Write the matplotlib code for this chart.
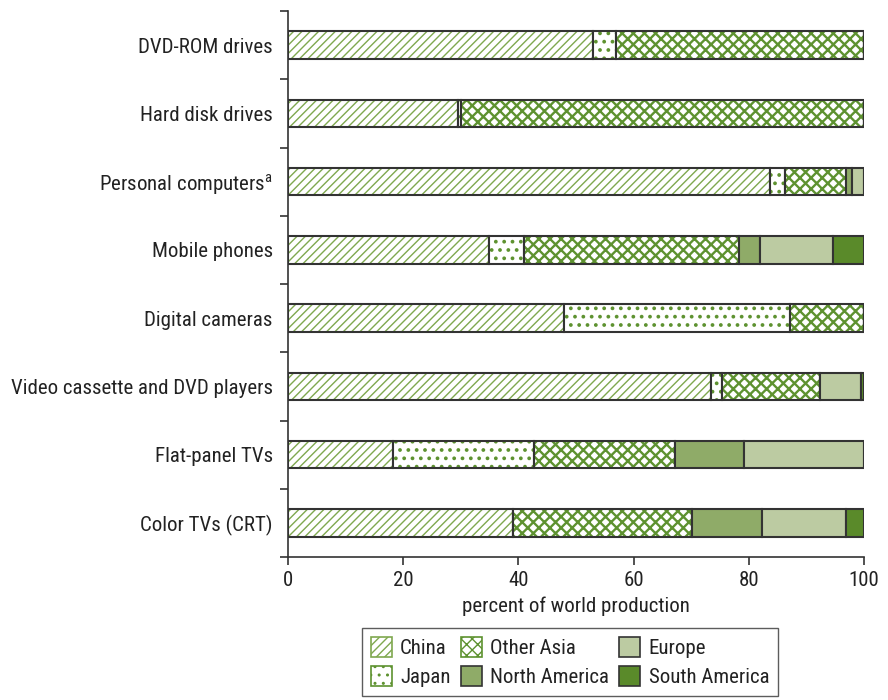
import matplotlib
matplotlib.use("Agg")
import matplotlib.pyplot as plt
from matplotlib import font_manager as fm
from matplotlib.patches import Patch
import numpy as np

categories = ["Color TVs (CRT)", "Flat-panel TVs", "Video cassette and DVD players",
              "Digital cameras", "Mobile phones", "Personal computers$^{\\mathrm{a}}$",
              "Hard disk drives", "DVD-ROM drives"]
china         = [39.1, 18.3, 73.5, 48.0, 34.9, 83.6, 29.5, 53.0]
japan         = [0.0, 24.4, 1.9, 39.2, 6.1, 2.6, 0.5, 4.0]
other_asia    = [31.1, 24.5, 17.0, 12.8, 37.3, 10.7, 70.0, 43.0]
north_america = [12.1, 11.9, 0.0, 0.0, 3.6, 1.1, 0.0, 0.0]
europe        = [14.6, 20.9, 7.1, 0.0, 12.8, 2.0, 0.0, 0.0]
south_america = [3.1, 0.0, 0.5, 0.0, 5.3, 0.0, 0.0, 0.0]
xticks = [0, 20, 40, 60, 80, 100]

names = {f.name for f in fm.fontManager.ttflist}
fam = None
for cand in ["Roboto Condensed", "Liberation Sans Narrow", "Open Sans Condensed",
             "Arial Narrow"]:
    if cand in names:
        fam = cand
        break
stretch = "normal"
if fam is None:
    if any(f.name == "DejaVu Sans" and f.stretch == "condensed" for f in fm.fontManager.ttflist):
        fam, stretch = "DejaVu Sans", "condensed"
    else:
        fam = "Roboto"
plt.rcParams['font.family'] = [fam, 'DejaVu Sans']
plt.rcParams['font.stretch'] = stretch
plt.rcParams['mathtext.fontset'] = 'custom'
plt.rcParams['mathtext.rm'] = fam

FS = 15
TXT = "#222222"

fig = plt.figure(figsize=(8.88, 7.0), dpi=100)
ax = fig.add_axes([288/888, 1-557/700, 576/888, 546/700])

series = [
    ("China", china, "white", "////", "#7fa84f", 1.0),
    ("Japan", japan, "white", "..", "#5e9230", 1.5),
    ("Other Asia", other_asia, "white", "xxx", "#5e9230", 1.7),
    ("North America", north_america, "#8fab68", None, None, 1.0),
    ("Europe", europe, "#bccba2", None, None, 1.0),
    ("South America", south_america, "#5a8a2a", None, None, 1.0),
]
y = np.arange(len(categories))
left = np.zeros(len(categories))
handles = []
for name, vals, fc, hatch, hc, hlw in series:
    vals = np.array(vals)
    with plt.rc_context({'hatch.linewidth': hlw}):
        if hatch:
            ax.barh(y, vals, left=left, height=0.4, color=fc, edgecolor=hc, hatch=hatch, linewidth=0)
        else:
            ax.barh(y, vals, left=left, height=0.4, color=fc, linewidth=0)
        handles.append(Patch(facecolor=fc, edgecolor=hc if hatch else "#333333",
                             hatch=hatch, linewidth=1.2))
    ax.barh(y, vals, left=left, height=0.4, fill=False, edgecolor="#333333", linewidth=1.5)
    left = left + vals

ax.set_xlim(0, 100)
ax.set_ylim(-0.5, 7.5)
ax.set_xticks(xticks)
ax.set_yticks(y)
ax.set_yticklabels(categories, fontsize=FS, color=TXT)
ax.set_yticks(np.arange(-0.5, 8, 1), minor=True)
ax.tick_params(axis='y', which='major', length=0, pad=11)
ax.tick_params(axis='y', which='minor', length=6, width=1.2, color="#333333")
ax.tick_params(axis='x', length=6, width=1.2, color="#333333", labelsize=FS, pad=4,
               labelcolor=TXT)
for s in ["top", "right"]:
    ax.spines[s].set_visible(False)
for s in ["left", "bottom"]:
    ax.spines[s].set_linewidth(1.2)
    ax.spines[s].set_color("#333333")
ax.set_xlabel("percent of world production", fontsize=FS, labelpad=5, color=TXT)

leg = fig.legend(handles, [s[0] for s in series], ncol=3, loc="center",
                 bbox_to_anchor=(570/888, 1-662/700), fontsize=FS, frameon=True,
                 fancybox=False, edgecolor="#333333", handlelength=1.0, handleheight=1.1,
                 columnspacing=0.5, handletextpad=0.4, borderpad=0.4, labelspacing=0.4)
leg.get_frame().set_linewidth(1.0)
for t in leg.get_texts():
    t.set_color(TXT)

fig.savefig("out.png", dpi=100)
